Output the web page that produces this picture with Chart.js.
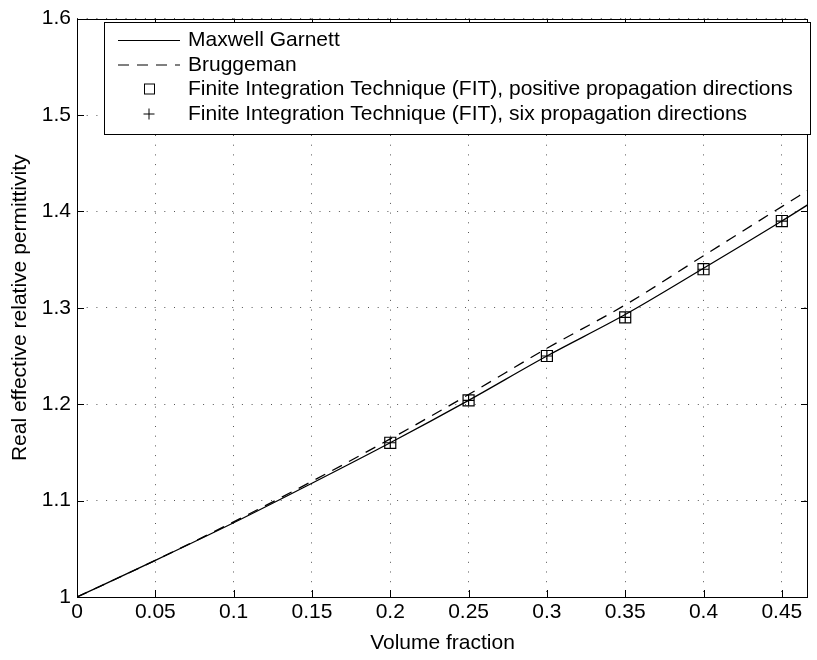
<!DOCTYPE html>
<html lang="en">
<head>
<meta charset="UTF-8">
<title>Real effective relative permittivity vs volume fraction</title>
<script src="https://cdn.jsdelivr.net/npm/chart.js"></script>
<style>
  body { margin: 0; background: #fff; }
  canvas { display: block; }
</style>
</head>
<body>
<canvas id="chart" width="817" height="660"></canvas>
<script>
  // values
  const fractionLine = [0, 0.05, 0.1, 0.15, 0.2, 0.25, 0.3, 0.35, 0.4, 0.45, 0.4667];
  const maxwellGarnett = [1.0, 1.038, 1.077, 1.118, 1.160, 1.204, 1.250, 1.293, 1.341, 1.390, 1.407];
  const bruggeman = [1.0, 1.038, 1.078, 1.120, 1.164, 1.210, 1.258, 1.303, 1.354, 1.405, 1.422];
  const fractionFit = [0.2, 0.25, 0.3, 0.35, 0.4, 0.45];
  const fitPositive = [1.16, 1.204, 1.25, 1.29, 1.34, 1.39];
  const fitSix = [1.16, 1.204, 1.25, 1.29, 1.34, 1.39];
  const xTicks = [0, 0.05, 0.1, 0.15, 0.2, 0.25, 0.3, 0.35, 0.4, 0.45];
  const yTicks = [1, 1.1, 1.2, 1.3, 1.4, 1.5, 1.6];
  const seriesNames = [
    'Maxwell Garnett',
    'Bruggeman',
    'Finite Integration Technique (FIT), positive propagation directions',
    'Finite Integration Technique (FIT), six propagation directions'
  ];

  const FONT = "'Liberation Sans', Arial, Helvetica, sans-serif";
  const FS = 21;
  const dash = [11, 8];

  function pts(xs, ys) {
    return xs.map((x, i) => ({ x: x, y: ys[i] }));
  }

  // box, inward ticks and the legend, MATLAB style
  const framePlugin = {
    id: 'frame',
    afterDraw(chart) {
      const { ctx, chartArea: a, scales } = chart;
      ctx.save();
      ctx.strokeStyle = '#000';
      ctx.lineWidth = 1;
      ctx.setLineDash([]);
      ctx.beginPath();
      xTicks.forEach(v => {
        const px = Math.round(scales.x.getPixelForValue(v)) + 0.5;
        ctx.moveTo(px, a.bottom); ctx.lineTo(px, a.bottom - 7);
        ctx.moveTo(px, a.top); ctx.lineTo(px, a.top + 7);
      });
      yTicks.forEach(v => {
        const py = Math.round(scales.y.getPixelForValue(v)) + 0.5;
        ctx.moveTo(a.left, py); ctx.lineTo(a.left + 7, py);
        ctx.moveTo(a.right, py); ctx.lineTo(a.right - 7, py);
      });
      ctx.stroke();
      ctx.strokeRect(Math.round(a.left) + 0.5, Math.round(a.top) + 0.5,
        Math.round(a.right - a.left) - 1, Math.round(a.bottom - a.top));

      // legend
      const bx = 104, by = 22, bw = 706, bh = 112;
      ctx.fillStyle = '#fff';
      ctx.fillRect(bx, by, bw, bh);
      ctx.strokeRect(bx + 0.5, by + 0.5, bw, bh);
      const rowY = [40.5, 65, 89.5, 114];
      const lx0 = 118, lx1 = 180, mx = 149;
      ctx.beginPath();
      ctx.moveTo(lx0, rowY[0]); ctx.lineTo(lx1, rowY[0]);
      ctx.stroke();
      ctx.setLineDash(dash);
      ctx.beginPath();
      ctx.moveTo(lx0, rowY[1]); ctx.lineTo(lx1, rowY[1]);
      ctx.stroke();
      ctx.setLineDash([]);
      ctx.strokeRect(mx - 5 + 0.5, rowY[2] - 5.5, 10, 10);
      ctx.beginPath();
      ctx.moveTo(mx - 5.5, rowY[3]); ctx.lineTo(mx + 5.5, rowY[3]);
      ctx.moveTo(mx, rowY[3] - 5.5); ctx.lineTo(mx, rowY[3] + 5.5);
      ctx.stroke();
      ctx.fillStyle = '#000';
      ctx.font = FS + 'px ' + FONT;
      ctx.textBaseline = 'middle';
      ctx.textAlign = 'left';
      seriesNames.forEach((t, i) => ctx.fillText(t, 188, rowY[i]));
      ctx.restore();
    }
  };

  new Chart(document.getElementById('chart'), {
    type: 'scatter',
    data: {
      datasets: [
        {
          label: seriesNames[0],
          data: pts(fractionLine, maxwellGarnett),
          showLine: true,
          borderColor: '#000',
          borderWidth: 1.3,
          pointRadius: 0,
          cubicInterpolationMode: 'monotone'
        },
        {
          label: seriesNames[1],
          data: pts(fractionLine, bruggeman),
          showLine: true,
          borderColor: '#000',
          borderWidth: 1.3,
          borderDash: dash,
          pointRadius: 0,
          cubicInterpolationMode: 'monotone'
        },
        {
          label: seriesNames[2],
          data: pts(fractionFit, fitPositive),
          showLine: false,
          pointStyle: 'rect',
          pointRadius: 7.8,
          pointBorderColor: '#000',
          pointBackgroundColor: 'rgba(0,0,0,0)',
          pointBorderWidth: 1.2
        },
        {
          label: seriesNames[3],
          data: pts(fractionFit, fitSix),
          showLine: false,
          pointStyle: 'cross',
          pointRadius: 5.5,
          pointBorderColor: '#000',
          pointBorderWidth: 1.2
        }
      ]
    },
    options: {
      responsive: false,
      animation: false,
      layout: { padding: { top: 12, right: 2, left: 0, bottom: 0 } },
      plugins: { legend: { display: false }, tooltip: { enabled: false } },
      scales: {
        x: {
          type: 'linear',
          min: 0,
          max: 0.4667,
          afterBuildTicks: s => { s.ticks = xTicks.map(v => ({ value: v })); },
          afterFit: s => { s.height = 63; },
          ticks: {
            color: '#000',
            font: { family: FONT, size: FS },
            padding: 3,
            maxRotation: 0,
            autoSkip: false,
            callback: v => String(Number(v.toFixed(2)))
          },
          grid: { color: '#555', lineWidth: 1, drawTicks: false },
          border: { display: false, dash: [1, 8.7] },
          title: {
            display: true,
            text: 'Volume fraction',
            color: '#000',
            font: { family: FONT, size: FS },
            padding: { top: 0, bottom: 4 }
          }
        },
        y: {
          type: 'linear',
          min: 1,
          max: 1.6,
          afterBuildTicks: s => { s.ticks = yTicks.map(v => ({ value: v })); },
          afterFit: s => { s.width = 77; },
          ticks: {
            color: '#000',
            font: { family: FONT, size: FS },
            padding: 6,
            autoSkip: false,
            callback: v => String(Number(v.toFixed(1)))
          },
          grid: { color: '#555', lineWidth: 1, drawTicks: false },
          border: { display: false, dash: [1, 8.7] },
          title: {
            display: true,
            text: 'Real effective relative permittivity',
            color: '#000',
            font: { family: FONT, size: FS },
            padding: { top: 8, bottom: 0 }
          }
        }
      }
    },
    plugins: [framePlugin]
  });
</script>
</body>
</html>
